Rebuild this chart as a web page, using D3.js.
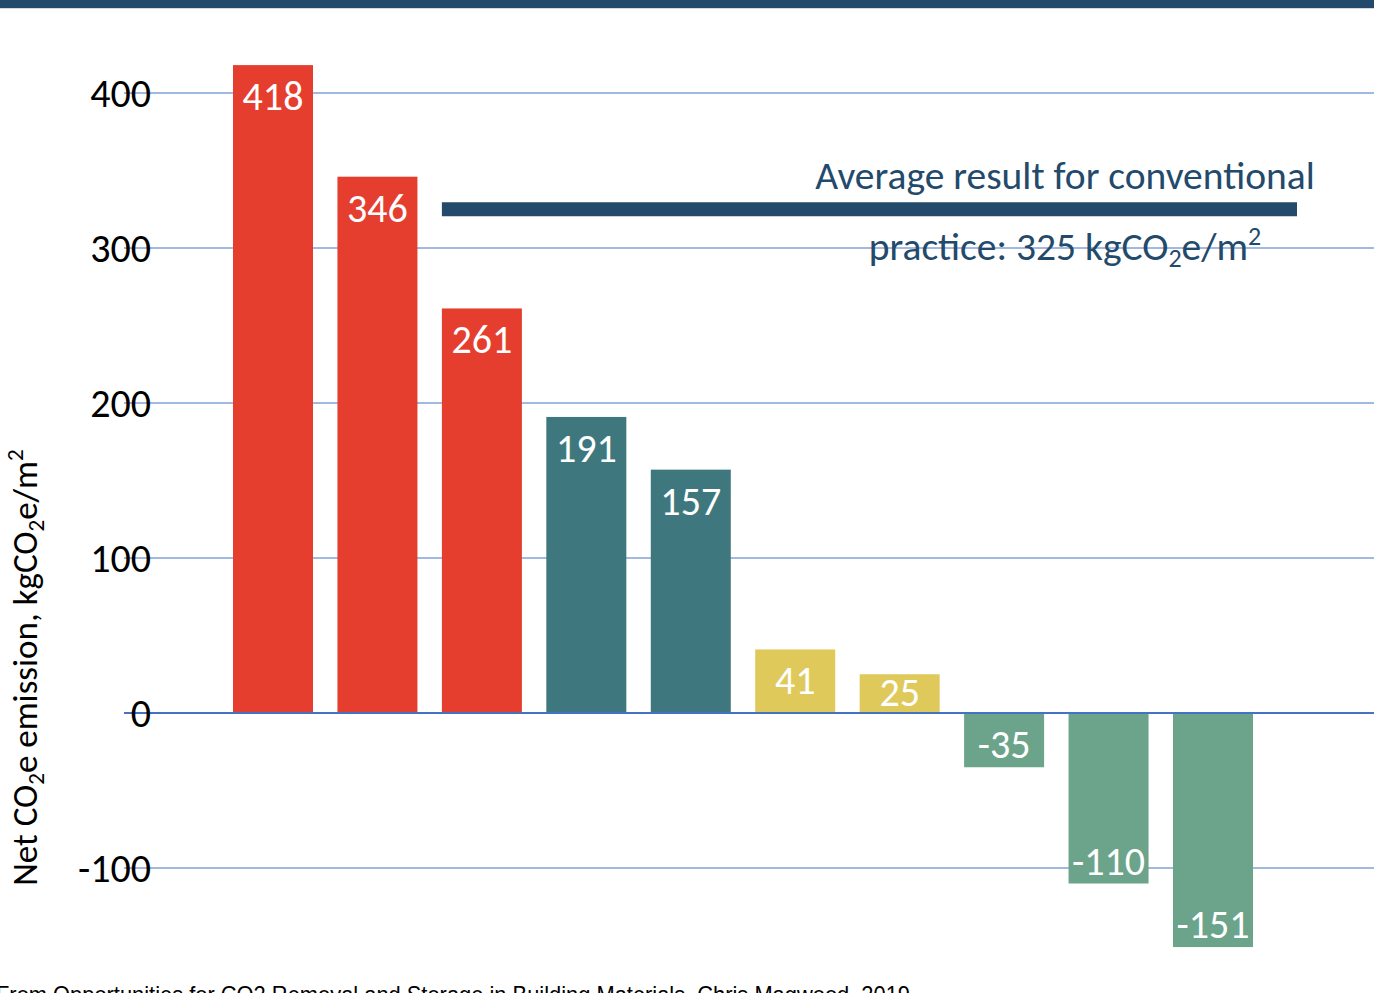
<!DOCTYPE html>
<html>
<head>
<meta charset="utf-8">
<script src="https://cdn.jsdelivr.net/npm/d3@7"></script>
<style>
  html, body { margin: 0; padding: 0; background: #fff; overflow: hidden; }
  svg { display: block; font-family: Carlito, Lato, 'Open Sans', sans-serif; }
</style>
</head>
<body>
<script>
// bars in order, left to right (no category names shown in the chart)
const categories = ['b1', 'b2', 'b3', 'b4', 'b5', 'b6', 'b7', 'b8', 'b9', 'b10']
const values = [418, 346, 261, 191, 157, 41, 25, -35, -110, -151]
const groups = ['high', 'high', 'high', 'mid', 'mid', 'low', 'low', 'neg', 'neg', 'neg']
const yTicks = [-100, 0, 100, 200, 300, 400]
const average = 325

const W = 1374, H = 993
const colors = { high: '#e53e2f', mid: '#3e787e', low: '#e0c95b', neg: '#6ba48a' }
const navy = '#234a6b'

const svg = d3.select('body').append('svg').attr('width', W).attr('height', H)

// top band
svg.append('rect').attr('x', 0).attr('y', 0).attr('width', W).attr('height', 8).attr('fill', navy)
svg.append('rect').attr('x', 0).attr('y', 8).attr('width', W).attr('height', 1).attr('fill', '#d6d9dc')

const x = d3.scaleBand().domain(categories).range([233, 1253]).paddingInner(0.234).paddingOuter(0)
const y = d3.scaleLinear().domain([0, 400]).range([713, 93])

// gridlines
svg.append('g').selectAll('line').data(yTicks).join('line')
  .attr('x1', 124).attr('x2', W)
  .attr('y1', d => y(d)).attr('y2', d => y(d))
  .attr('stroke', '#4472c4')
  .attr('stroke-width', d => d === 0 ? 2 : 1)

// tick labels
svg.append('g').selectAll('text').data(yTicks).join('text')
  .attr('x', 151).attr('y', d => y(d) + 4)
  .attr('text-anchor', 'end').attr('dominant-baseline', 'middle')
  .attr('font-size', 40).attr('fill', '#000')
  .text(d => d)

// bars
svg.append('g').selectAll('rect').data(values).join('rect')
  .attr('x', (d, i) => x(categories[i]))
  .attr('width', x.bandwidth())
  .attr('y', d => d >= 0 ? y(d) : y(0) + 1)
  .attr('height', d => d >= 0 ? y(0) - 1 - y(d) : y(d) - y(0) - 1)
  .attr('fill', (d, i) => colors[groups[i]])

// value labels
svg.append('g').selectAll('text').data(values).join('text')
  .attr('x', (d, i) => x(categories[i]) + x.bandwidth() / 2)
  .attr('y', d => d >= 0 ? Math.min(y(d) + 45, y(0) - 7) : y(d) - 9)
  .attr('text-anchor', 'middle')
  .attr('font-size', 40).attr('fill', '#fff')
  .text(d => d)

// average line
svg.append('line')
  .attr('x1', x('b3')).attr('x2', 1297)
  .attr('y1', y(average)).attr('y2', y(average))
  .attr('stroke', navy).attr('stroke-width', 14)

const avgText = svg.append('text')
  .attr('x', 1065).attr('text-anchor', 'middle')
  .attr('font-size', 39.5).attr('fill', navy)
avgText.append('tspan').attr('x', 1065).attr('y', 189).text('Average result for conventional')
const l2 = avgText.append('tspan').attr('x', 1065).attr('y', 260)
l2.append('tspan').text('practice: ' + average + ' kgCO')
l2.append('tspan').attr('font-size', 26).attr('dy', 7).text('2')
l2.append('tspan').attr('dy', -7).text('e/m')
l2.append('tspan').attr('font-size', 26).attr('dy', -15).text('2')

// y axis title
const yt = svg.append('text')
  .attr('transform', 'translate(37,' + ((448 + 887) / 2) + ') rotate(-90)')
  .attr('text-anchor', 'middle')
  .attr('font-size', 35).attr('fill', '#000')
yt.append('tspan').text('Net CO')
yt.append('tspan').attr('font-size', 23).attr('dy', 7).text('2')
yt.append('tspan').attr('dy', -7).text('e emission, kgCO')
yt.append('tspan').attr('font-size', 23).attr('dy', 7).text('2')
yt.append('tspan').attr('dy', -7).text('e/m')
yt.append('tspan').attr('font-size', 23).attr('dy', -14).text('2')

// source
svg.append('text')
  .attr('x', -4).attr('y', 1003)
  .attr('font-family', "'Liberation Sans Narrow', 'Liberation Sans', sans-serif")
  .attr('font-size', 24).attr('fill', '#000')
  .attr('textLength', 914).attr('lengthAdjust', 'spacingAndGlyphs')
  .text('From Opportunities for CO2 Removal and Storage in Building Materials, Chris Magwood, 2019')
</script>
</body>
</html>
